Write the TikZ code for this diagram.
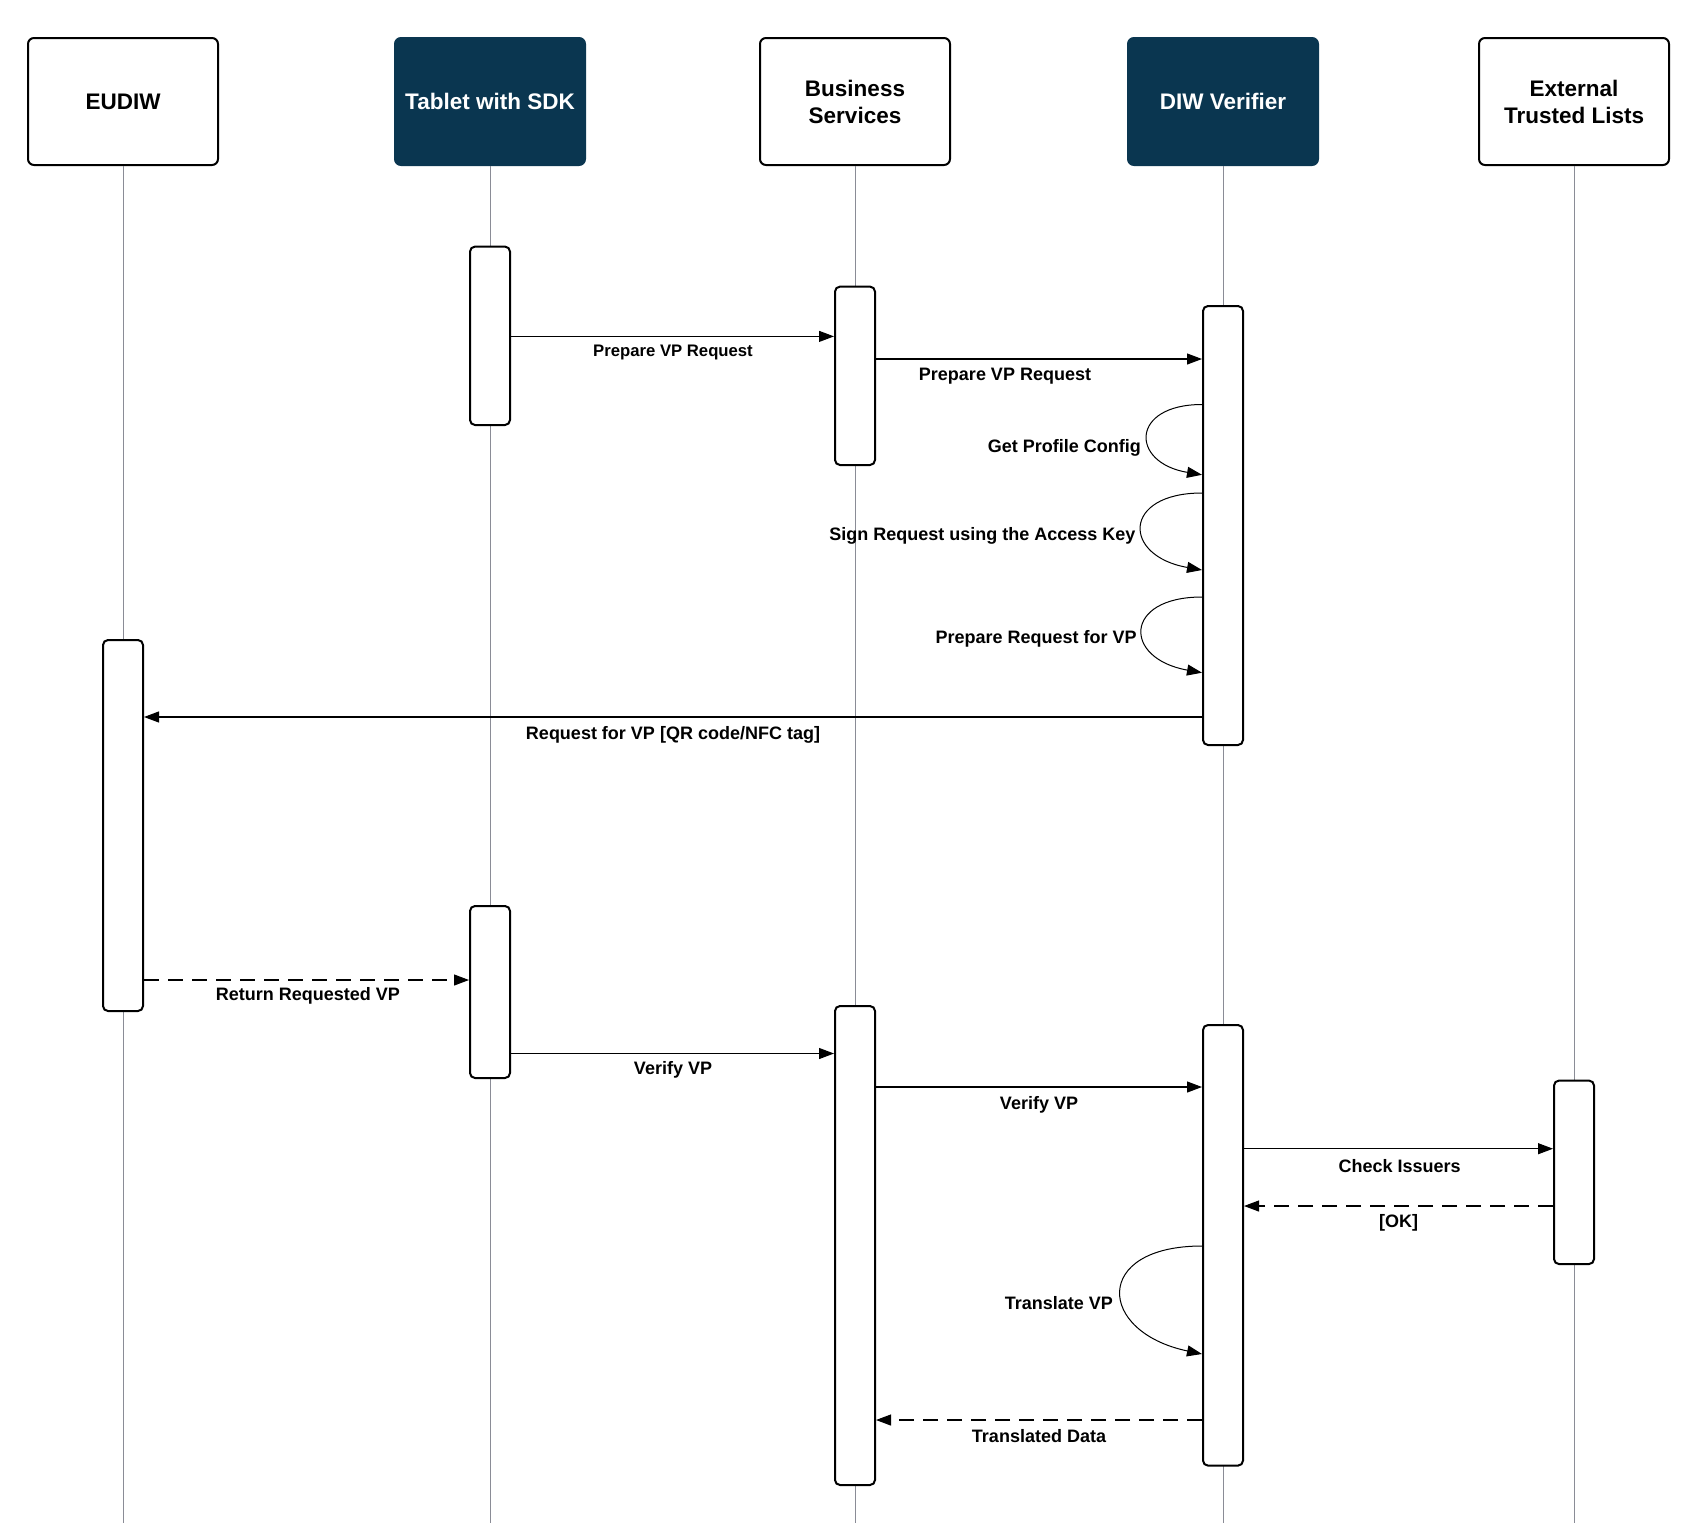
\documentclass[tikz,border=0pt]{standalone}
\usepackage{fontspec}
\setmainfont{Liberation Sans}
\usetikzlibrary{arrows.meta}
\definecolor{navy}{HTML}{0A3650}
\definecolor{life}{HTML}{8A8C96}
\tikzset{
  part/.style={draw=black, line width=2pt, rounded corners=6pt, minimum width=190pt, minimum height=127pt, align=center, font=\fontsize{22.5}{27}\selectfont\bfseries, inner sep=0pt, fill=white},
  dpart/.style={part, fill=navy, draw=navy, text=white},
  act/.style={draw=black, line width=2pt, rounded corners=5pt, fill=white, minimum width=40pt, inner sep=0pt},
  tip/.style={-{Triangle[length=15pt,width=11pt]}},
  msg/.style={line width=1.1pt, tip},
  ret/.style={msg, dash pattern=on 15pt off 9pt},
  selfmsg/.style={line width=1pt, tip},
  lbl/.style={font=\fontsize{18}{20}\selectfont\bfseries, inner sep=0pt, yshift=-2.5pt},
  lifeline/.style={draw=life, line width=1pt}
}
\begin{document}
\begin{tikzpicture}[x=1pt,y=-1pt]
\useasboundingbox (0,0) rectangle (1696,1523);
% participants
\node[part]  (eud) at (123,101.5) {EUDIW};
\node[dpart] (tab) at (490,101.5) {Tablet with SDK};
\node[part]  (bus) at (855,101.5) {Business\\Services};
\node[dpart] (diw) at (1223,101.5) {DIW Verifier};
\node[part]  (ext) at (1574,101.5) {External\\Trusted Lists};
% lifelines
\coordinate (eudE) at (123,1523);
\coordinate (tabE) at (490,1523);
\coordinate (busE) at (855,1523);
\coordinate (diwE) at (1223,1523);
\coordinate (extE) at (1574,1523);
\draw[lifeline] (eud.south) -- (eudE);
\draw[lifeline] (tab.south) -- (tabE);
\draw[lifeline] (bus.south) -- (busE);
\draw[lifeline] (diw.south) -- (diwE);
\draw[lifeline] (ext.south) -- (extE);
% activation bars
\node[act, minimum height=178.4pt] (tab1) at (490,335.8) {};
\node[act, minimum height=178.4pt] (bus1) at (855,375.8) {};
\node[act, minimum height=439pt]   (diw1) at (1223,525.5) {};
\node[act, minimum height=371pt]   (eud1) at (123,825.5) {};
\node[act, minimum height=172pt]   (tab2) at (490,992) {};
\node[act, minimum height=479pt]   (bus2) at (855,1245.5) {};
\node[act, minimum height=440.6pt] (diw2) at (1223,1245.3) {};
\node[act, minimum height=183.5pt] (ext1) at (1574,1172.3) {};
% messages
\draw[msg] (tab1.east |- 0,336.4) -- (bus1.west |- 0,336.4);
\node[lbl, font=\fontsize{16.7}{19}\selectfont\bfseries] (l1) at (673,350.4) {Prepare VP Request};
\draw[msg] (bus1.east |- 0,359) -- (diw1.west |- 0,359);
\node[lbl] (l2) at (1005,374) {Prepare VP Request};
% self loops
\draw[selfmsg] (diw1.west |- 0,404.5) .. controls +(-72,0) and +(-72,-12) .. (diw1.west |- 0,474.8);
\node[lbl, anchor=east] (l3) at (1141,445.6) {Get Profile Config};
\draw[selfmsg] (diw1.west |- 0,493) .. controls +(-80,0) and +(-80,-14) .. (diw1.west |- 0,570);
\node[lbl, anchor=east] (l4) at (1135.7,533) {Sign Request using the Access Key};
\draw[selfmsg] (diw1.west |- 0,597) .. controls +(-79,0) and +(-79,-14) .. (diw1.west |- 0,672.7);
\node[lbl, anchor=east] (l5) at (1136.8,636) {Prepare Request for VP};
\draw[msg] (diw1.west |- 0,717) -- (eud1.east |- 0,717);
\node[lbl] (l6) at (673,732) {Request for VP [QR code/NFC tag]};
\draw[ret] (eud1.east |- 0,980) -- (tab2.west |- 0,980);
\node[lbl] (l7) at (308,993) {Return Requested VP};
\draw[msg] (tab2.east |- 0,1053.5) -- (bus2.west |- 0,1053.5);
\node[lbl] (l8) at (673,1067.5) {Verify VP};
\draw[msg] (bus2.east |- 0,1087) -- (diw2.west |- 0,1087);
\node[lbl] (l9) at (1039,1102) {Verify VP};
\draw[msg] (diw2.east |- 0,1148.7) -- (ext1.west |- 0,1148.7);
\node[lbl] (l10) at (1399.6,1164) {Check Issuers};
\draw[ret] (ext1.west |- 0,1206) -- (diw2.east |- 0,1206);
\node[lbl] (l11) at (1398.5,1220) {[OK]};
\draw[selfmsg] (diw2.west |- 0,1246) .. controls +(-110,0) and +(-105,-22) .. (diw2.west |- 0,1354);
\node[lbl, anchor=east] (l12) at (1113,1301) {Translate VP};
\draw[ret] (diw2.west |- 0,1420) -- (bus2.east |- 0,1420);
\node[lbl] (l13) at (1039,1434) {Translated Data};
\end{tikzpicture}
\end{document}
